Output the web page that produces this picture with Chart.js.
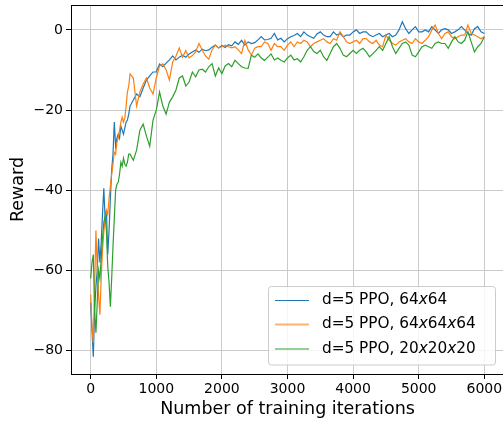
<!DOCTYPE html>
<html lang="en">
<head>
<meta charset="UTF-8" />
<title>Reward vs training iterations</title>
<script src="https://cdn.jsdelivr.net/npm/chart.js"></script>
<style>
  html, body { margin: 0; padding: 0; background: #fff; overflow: hidden; }
  #wrap { width: 503px; height: 423px; overflow: hidden; }
</style>
</head>
<body>
<div id="wrap"><canvas id="reward" width="506" height="423"></canvas></div>
<script>
// training iteration of each sample (finer at the start, where the curves move fast)
const iterations = [
  0, 20, 40, 60, 80, 100, 120, 140, 160, 180, 200, 220, 240, 260, 280, 300,
  320, 340, 360, 380, 400, 420, 440, 460, 480, 500, 520, 540, 560, 580, 600,
  650, 700, 750, 800, 850, 900, 950, 1000,
  1050, 1100, 1150, 1200, 1250, 1300, 1350, 1400, 1450, 1500,
  1550, 1600, 1650, 1700, 1750, 1800, 1850, 1900, 1950, 2000,
  2050, 2100, 2150, 2200, 2250, 2300, 2350, 2400, 2450, 2500,
  2550, 2600, 2650, 2700, 2750, 2800, 2850, 2900, 2950, 3000,
  3050, 3100, 3150, 3200, 3250, 3300, 3350, 3400, 3450, 3500,
  3550, 3600, 3650, 3700, 3750, 3800, 3850, 3900, 3950, 4000,
  4050, 4100, 4150, 4200, 4250, 4300, 4350, 4400, 4450, 4500,
  4550, 4600, 4650, 4700, 4750, 4800, 4850, 4900, 4950, 5000,
  5050, 5100, 5150, 5200, 5250, 5300, 5350, 5400, 5450, 5500,
  5550, 5600, 5650, 5700, 5750, 5800, 5850, 5900, 5950, 6000
];

const ppo64x64 = [
  -68, -75, -81.5, -70, -64, -60, -52, -58, -53, -46,
  -39.5, -47, -45, -56, -50, -42, -35, -31, -23, -29,
  -27, -26, -27, -24, -25, -26, -24.5, -23, -22.5, -21, -19,
  -17.5, -16, -16.7, -14.5, -12.5, -11.5, -10.5, -10.5,
  -8.5, -9.2, -8.3, -7.5, -6.5, -7.5, -6.8, -6.3, -6.8, -6,
  -5.5, -5, -5.6, -4.8, -5.2, -5, -4.3, -3.8, -4.5, -3.9,
  -4.4, -3.7, -4, -3, -3.6, -2.6, -3.8, -3, -3.4, -3.2,
  -2.5, -1.7, -2.5, -2.4, -2.1, -0.9, -2.5, -2.1, -3, -2.2,
  -1.7, -1.4, -0.9, -1.7, -0.5, -1.3, -1.7, -2.1, -1, -0.5,
  -1.3, -1.7, -1.7, -0.5, -1.3, -0.9, -1.7, -1.3, -1.3, -0.5,
  0, -0.9, -0.5, -0.5, -1.3, -1.7, -1.3, -0.9, -1.7, -1.3,
  -0.9, -1.7, -1.3, 0, 2.0, 0.3, -0.9, 0, 0.8, -0.5,
  -0.5, 0, -0.5, 0.8, 0, -0.9, 0, 0.3, 0, -0.9,
  -0.5, 0, 0.8, 0, -0.9, -1.3, 0.3, 0.8, -0.5, -0.9
];

const ppo64x64x64 = [
  -66, -74, -78, -64, -50, -60, -66, -71, -62, -55,
  -50.5, -47, -45, -46, -42, -39, -36, -33.5, -30.5, -31,
  -28, -27, -25, -23, -21.8, -23, -22, -19, -15.5, -14, -11,
  -12, -19, -15.5, -13.5, -12, -14.5, -16, -12,
  -9, -8.5, -10, -12.5, -8, -6.5, -4.5, -6.8, -5.2, -7,
  -6.4, -5.5, -3.4, -5, -6.5, -7.3, -5, -3.8, -4.5, -4.2,
  -3.8, -4.2, -4.5, -4.2, -5, -5.9, -2.6, -5, -6.3, -4.6,
  -4.2, -4.2, -3, -3.4, -5.1, -3.4, -4.2, -4.2, -5.1, -3.8,
  -3, -4.2, -3, -3.4, -2.6, -3, -4.2, -3.4, -3, -2.6,
  -2.2, -3, -3.4, -2.2, -2.6, -0.5, -1.7, -3, -3.4, -3,
  -2.6, -3.4, -2.2, -2.2, -3, -3.4, -2.6, -3.8, -4.2, -1.3,
  -2.6, -3.4, -3.8, -3, -2.6, -2.2, -3, -3.4, -2.2, -3,
  -3.4, -2.6, -1.7, 0, 1.2, -0.9, -2.2, -0.9, -0.5, -1.7,
  -2.2, -1.7, -1.3, -1.3, 1.2, -0.9, -1.3, -1.7, -2.2, -1.7
];

const ppo20x20x20 = [
  -62, -58, -56, -70, -75.5, -68, -60, -62, -57, -52,
  -48, -46.5, -50, -59, -63, -69, -62, -54, -47, -40,
  -38.5, -38, -36, -33, -34, -32, -33.5, -34, -33, -31, -31,
  -32.5, -30, -25, -23.5, -26.5, -29, -22.5, -20,
  -15.5, -19, -21, -18, -16.7, -15, -12, -11.5, -14, -13,
  -10.5, -11.7, -10, -9.8, -10.5, -9.2, -8.4, -11.5, -9.5, -10.9,
  -9, -8.4, -9.2, -7.6, -8.4, -9.2, -9.5, -9.6, -6.3, -6.8,
  -6, -7, -7.6, -6.8, -6, -7.5, -7, -7.6, -8, -7,
  -6.3, -7.5, -7.2, -8, -6.7, -5.1, -4.2, -5.4, -5.9, -5.1,
  -6.7, -7.6, -5.9, -4.2, -3.4, -4.6, -6.3, -6.7, -5.9, -5.1,
  -5.9, -5.1, -4.6, -5.5, -6.7, -6, -5.1, -4.2, -5.1, -3.4,
  -1.7, -4.2, -5.9, -4.6, -3.4, -3, -3.8, -6.3, -6.7, -5.5,
  -4.2, -3.8, -4.2, -4.6, -3.4, -3, -3.4, -3.4, -4.6, -3,
  -1.7, -3, -3.4, -2.6, -0.5, -3, -5.5, -4.2, -3.4, -1.7
];

const seriesNames = ['d=5 PPO, 64x64', 'd=5 PPO, 64x64x64', 'd=5 PPO, 20x20x20'];
const seriesColors = ['#1f77b4', '#ff7f0e', '#2ca02c'];
const xTickValues = [0, 1000, 2000, 3000, 4000, 5000, 6000];
const yTickValues = [-80, -60, -40, -20, 0];

const FONT = '"DejaVu Sans", sans-serif';

function fmt(v) {
  return v < 0 ? '\u2212' + Math.abs(v) : String(v);
}

function toPoints(values) {
  return iterations.map((it, i) => ({ x: it, y: values[i] }));
}

// top spine, axis titles and a matplotlib-like legend with italic "x"
const decorations = {
  id: 'decorations',
  afterDraw(chart) {
    const ctx = chart.ctx;
    const a = chart.chartArea;
    ctx.save();

    ctx.strokeStyle = '#000';
    ctx.lineWidth = 1;
    ctx.beginPath();
    ctx.moveTo(a.left, a.top + 0.5);
    ctx.lineTo(a.right, a.top + 0.5);
    ctx.lineTo(a.right - 0.5, a.bottom);
    ctx.stroke();

    ctx.fillStyle = '#000';
    ctx.font = '17.5px ' + FONT;
    ctx.textAlign = 'center';
    ctx.textBaseline = 'middle';
    ctx.fillText('Number of training iterations', (a.left + a.right) / 2, 409);
    ctx.save();
    ctx.translate(18, (a.top + a.bottom) / 2);
    ctx.rotate(-Math.PI / 2);
    ctx.fillText('Reward', 0, 0);
    ctx.restore();

    // legend
    const bx = 268.5, by = 286.5, bw = 227, bh = 78.5;
    ctx.beginPath();
    if (ctx.roundRect) ctx.roundRect(bx, by, bw, bh, 3); else ctx.rect(bx, by, bw, bh);
    ctx.fillStyle = 'rgba(255,255,255,0.8)';
    ctx.fill();
    ctx.strokeStyle = '#cccccc';
    ctx.stroke();

    const rows = [300.5, 324.5, 349];
    seriesNames.forEach((name, i) => {
      const y = rows[i];
      ctx.strokeStyle = seriesColors[i];
      ctx.lineWidth = i === 1 ? 2 : 1;
      ctx.globalAlpha = i === 1 ? 0.6 : 1;
      ctx.beginPath();
      ctx.moveTo(275, y);
      ctx.lineTo(309, y);
      ctx.stroke();
      ctx.globalAlpha = 1;

      ctx.fillStyle = '#000';
      ctx.textAlign = 'left';
      ctx.textBaseline = 'middle';
      const cut = name.indexOf(', ') + 2;
      let x = 322;
      ctx.font = '15.3px ' + FONT;
      const head = name.slice(0, cut);
      ctx.fillText(head, x, y);
      x += ctx.measureText(head).width;
      for (const ch of name.slice(cut)) {
        ctx.font = (ch === 'x' ? 'oblique ' : '') + '15.3px ' + FONT;
        ctx.fillText(ch, x, y);
        x += ctx.measureText(ch).width;
      }
    });
    ctx.restore();
  }
};

const axisCommon = {
  type: 'linear',
  grid: { color: '#cbcbcb', lineWidth: 1, tickColor: '#000', tickLength: 5, tickWidth: 1 },
  border: { color: '#000', width: 1 },
  ticks: { color: '#000', font: { family: FONT, size: 14 }, autoSkip: false, maxRotation: 0, callback: fmt }
};

function noEdgePadding(s) {
  s.paddingTop = 0; s.paddingBottom = 0; s.paddingLeft = 0; s.paddingRight = 0;
}

new Chart(document.getElementById('reward'), {
  type: 'line',
  data: {
    datasets: [
      { label: seriesNames[0], data: toPoints(ppo64x64), borderColor: seriesColors[0], order: 3 },
      { label: seriesNames[1], data: toPoints(ppo64x64x64), borderColor: seriesColors[1], order: 2 },
      { label: seriesNames[2], data: toPoints(ppo20x20x20), borderColor: seriesColors[2], order: 1 }
    ].map(d => Object.assign(d, { borderWidth: 1.2, pointRadius: 0, fill: false, tension: 0 }))
  },
  options: {
    responsive: false,
    animation: false,
    layout: { padding: { left: 0, top: 5, right: 2, bottom: 0 } },
    plugins: { legend: { display: false }, tooltip: { enabled: false } },
    scales: {
      x: Object.assign({}, axisCommon, {
        min: -300, max: 6300,
        ticks: Object.assign({}, axisCommon.ticks, { padding: 2 }),
        afterBuildTicks: s => { s.ticks = xTickValues.map(v => ({ value: v })); },
        afterFit: s => { s.height = 49; noEdgePadding(s); }
      }),
      y: Object.assign({}, axisCommon, {
        min: -85.8, max: 6.2,
        ticks: Object.assign({}, axisCommon.ticks, { padding: 3 }),
        afterBuildTicks: s => { s.ticks = yTickValues.map(v => ({ value: v })); },
        afterFit: s => { s.width = 71; noEdgePadding(s); }
      })
    }
  },
  plugins: [decorations]
});
</script>
</body>
</html>
